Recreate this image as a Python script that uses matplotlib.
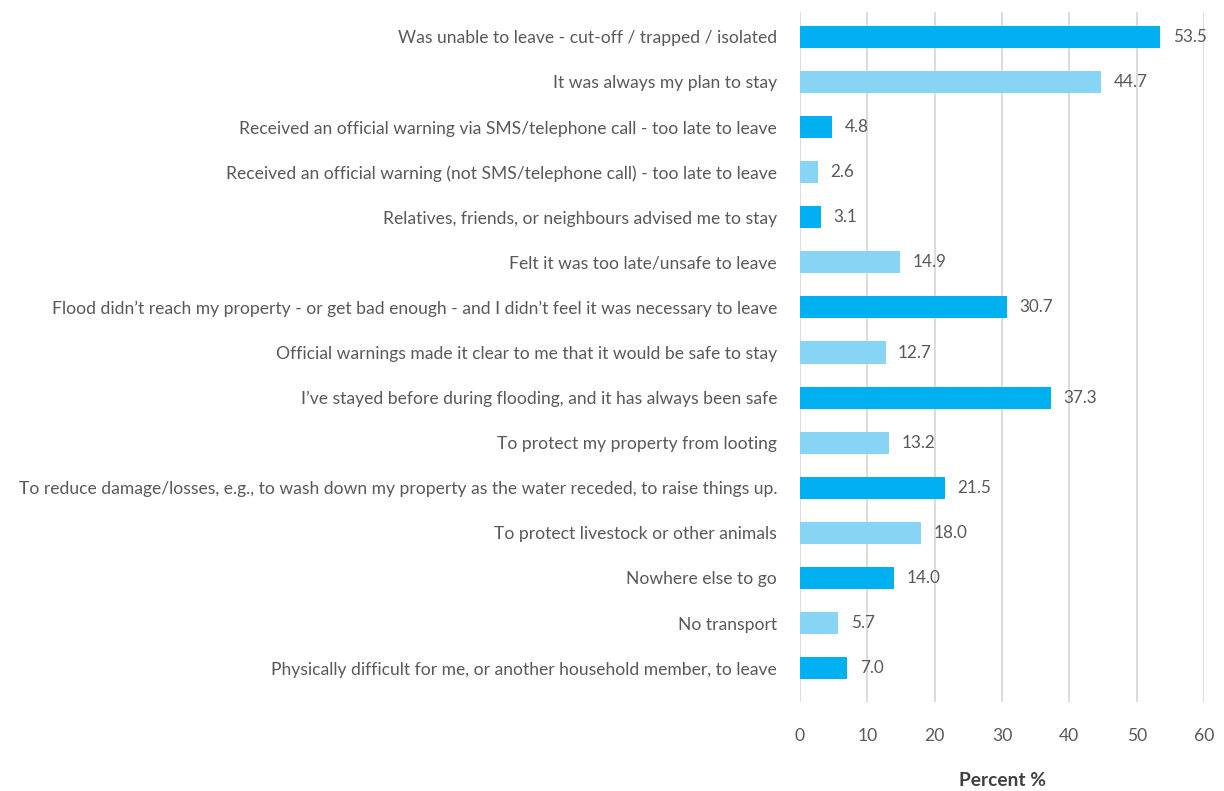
import matplotlib as mpl
import matplotlib.pyplot as plt
import numpy as np

reasons = [
    "Was unable to leave - cut-off / trapped / isolated",
    "It was always my plan to stay",
    "Received an official warning via SMS/telephone call - too late to leave",
    "Received an official warning (not SMS/telephone call) - too late to leave",
    "Relatives, friends, or neighbours advised me to stay",
    "Felt it was too late/unsafe to leave",
    "Flood didn\u2019t reach my property - or get bad enough - and I didn\u2019t feel it was necessary to leave",
    "Official warnings made it clear to me that it would be safe to stay",
    "I\u2019ve stayed before during flooding, and it has always been safe",
    "To protect my property from looting",
    "To reduce damage/losses, e.g., to wash down my property as the water receded, to raise things up.",
    "To protect livestock or other animals",
    "Nowhere else to go",
    "No transport",
    "Physically difficult for me, or another household member, to leave",
]
percent = [53.5, 44.7, 4.8, 2.6, 3.1, 14.9, 30.7, 12.7, 37.3, 13.2, 21.5, 18.0, 14.0, 5.7, 7.0]
x_ticks = [0, 10, 20, 30, 40, 50, 60]

DARK = "#00B0F0"
LIGHT = "#87D4F5"
TEXT = "#595959"
GRID = "#D9D9D9"

mpl.rcParams.update({
    "font.family": ["Lato", "DejaVu Sans"],
    "font.size": 12.6,
})

fig = plt.figure(figsize=(12.24, 7.91), dpi=100)
ax = fig.add_axes([0.6536, 0.1125, 0.3301, 0.8723])

y = np.arange(len(reasons))
colors = [DARK if i % 2 == 0 else LIGHT for i in y]
ax.barh(y, percent, height=0.49, color=colors, zorder=2)

for yi, v in zip(y, percent):
    ax.annotate(f"{v:.1f}", (v, yi), xytext=(9, 0), textcoords="offset points",
                va="center", ha="left", color=TEXT, fontsize=12.3)

ax.set_ylim(14.75, -0.55)
ax.set_xlim(0, 60)
ax.set_xticks(x_ticks)
ax.set_yticks(y)
ax.set_yticklabels(reasons)
ax.xaxis.grid(True, color=GRID, lw=1.3)
ax.set_axisbelow(True)
for s in ax.spines.values():
    s.set_visible(False)
ax.tick_params(axis="both", length=0, colors=TEXT, labelsize=12.6)
ax.tick_params(axis="y", pad=16.5)
ax.tick_params(axis="x", pad=19)
ax.set_xlabel("Percent %", fontweight="bold", color="#404040", labelpad=20, fontsize=13.8)

fig.savefig("out.png", dpi=100)
